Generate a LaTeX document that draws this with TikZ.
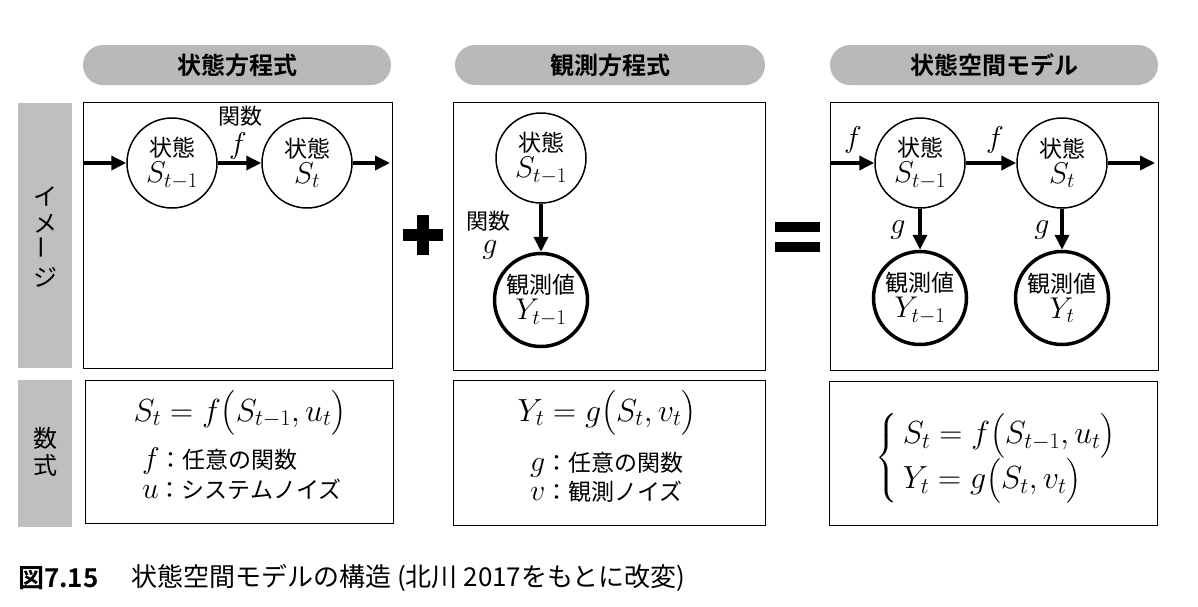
\RequirePackage{fix-cm}
\documentclass[tikz,border=0pt]{standalone}
\usepackage{amsmath}
\usepackage{fontspec}
\setmainfont{Noto Sans CJK JP}[BoldFont={Noto Sans CJK JP Bold}]
\usepackage{graphicx}
\usetikzlibrary{arrows.meta,positioning}
\newcommand{\symb}[1]{{\fontsize{30}{30}\selectfont$#1$}}
\tikzset{>={Triangle[length=15pt,width=14pt]}}
\tikzset{
  header/.style={fill=gray!55,rounded corners=20pt,minimum height=40pt,
    inner sep=0pt,font=\fontsize{24}{28}\selectfont\bfseries},
  side/.style={fill=gray!50},
  sidetext/.style={align=center,inner sep=0pt,font=\fontsize{24}{27}\selectfont},
  panel/.style={draw,line width=1pt},
  state/.style={circle,draw,line width=1.5pt,minimum size=90pt,inner sep=0pt,
    align=center,font=\fontsize{23}{26}\selectfont},
  obs/.style={state,line width=3.5pt,minimum size=93pt},
  flow/.style={->,line width=3.5pt},
  fname/.style={inner sep=0pt,font=\fontsize{22}{24}\selectfont},
  eqn/.style={inner sep=0pt,font=\fontsize{32}{34}\selectfont},
  note/.style={inner sep=0pt,anchor=west,font=\fontsize{23}{26}\selectfont},
}

\begin{document}
\begin{tikzpicture}[x=1pt,y=-1pt]
\useasboundingbox (0,0) rectangle (1198,606);

% column headers
\node [header,minimum width=308pt] (hstate) at (237,65) {状態方程式};
\node [header,minimum width=310pt] (hobs) at (610,65) {観測方程式};
\node [header,minimum width=328pt] (hssm) at (994,65) {状態空間モデル};

% row labels
\fill [side] (18,103) rectangle (72,368);
\fill [side] (18,380) rectangle (72,527);
\node [sidetext] (limage) at (45,237) {イ\\メ\\\rotatebox{90}{ー}\\ジ};
\node [sidetext] (lmath) at (45,452) {数\\式};

% panels
\draw [panel] (83,102) rectangle (392,368);
\draw [panel] (453,102) rectangle (765,370);
\draw [panel] (830,102) rectangle (1158,370);
\draw [panel] (85,380) rectangle (393,523);
\draw [panel] (453,380) rectangle (765,525);
\draw [panel] (829,381) rectangle (1157,525);

% plus and equals
\fill (403,229) rectangle (443,241);
\fill (417,215) rectangle (429,255);
\fill (775,222) rectangle (820,232);
\fill (775,242) rectangle (820,252);

% state equation
\node [state] (sa) at (172,163) {状態\\\symb{S_{t-1}}};
\node [state] (sb) at (307,163) {状態\\\symb{S_t}};
\coordinate (ina) at (83,163);
\coordinate (outa) at (390,163);
\draw [flow] (ina) -- (sa);
\draw [flow] (sa) -- (sb);
\draw [flow] (sb) -- (outa);
\node [fname] (fa) at (240,116) {関数};
\node [fname] (fb) at (238,146) {\symb{f}};

% observation equation
\node [state] (sc) at (541,158) {状態\\\symb{S_{t-1}}};
\node [obs] (yc) at (541,300) {観測値\\\symb{Y_{t-1}}};
\draw [flow] (sc) -- (yc);
\node [fname] (ga) at (488,221) {関数};
\node [fname] (gb) at (490,250) {\symb{g}};

% state space model
\node [state] (sd) at (920,163) {状態\\\symb{S_{t-1}}};
\node [state] (se) at (1062,163) {状態\\\symb{S_t}};
\node [obs] (yd) at (920,298) {観測値\\\symb{Y_{t-1}}};
\node [obs] (ye) at (1062,298) {観測値\\\symb{Y_t}};
\coordinate (ind) at (830,163);
\coordinate (oute) at (1155,163);
\draw [flow] (ind) -- (sd);
\draw [flow] (sd) -- (se);
\draw [flow] (se) -- (oute);
\draw [flow] (sd) -- (yd);
\draw [flow] (se) -- (ye);
\node [fname] (fd) at (853,140) {\symb{f}};
\node [fname] (fe) at (995,140) {\symb{f}};
\node [fname] (gd) at (898,230) {\symb{g}};
\node [fname] (ge) at (1042,230) {\symb{g}};

% formulas
\node [eqn] (eqs) at (240,413) {$S_t=f\bigl(S_{t-1},u_t\bigr)$};
\node [note] (nf) at (142,461) {\symb{f}：任意の関数};
\node [note] (nu) at (142,489) {\symb{u}：システムノイズ};
\node [eqn] (eqy) at (607,413) {$Y_t=g\bigl(S_t,v_t\bigr)$};
\node [note] (ng) at (530,465) {\symb{g}：任意の関数};
\node [note] (nv) at (530,492) {\symb{v}：観測ノイズ};
\node [eqn] (eqm) at (996,458) {$\left\{\begin{array}{@{\,}l@{}}
  S_t=f\bigl(S_{t-1},u_t\bigr)\\[2pt]
  Y_t=g\bigl(S_t,v_t\bigr)\end{array}\right.$};

% caption
\node [note,font=\fontsize{26}{28}\selectfont\bfseries] (cnum) at (18,578) {図7.15};
\node [note,font=\fontsize{26}{28}\selectfont] (ctext) at (131,578) {状態空間モデルの構造 (北川 2017をもとに改変)};
\end{tikzpicture}
\end{document}
